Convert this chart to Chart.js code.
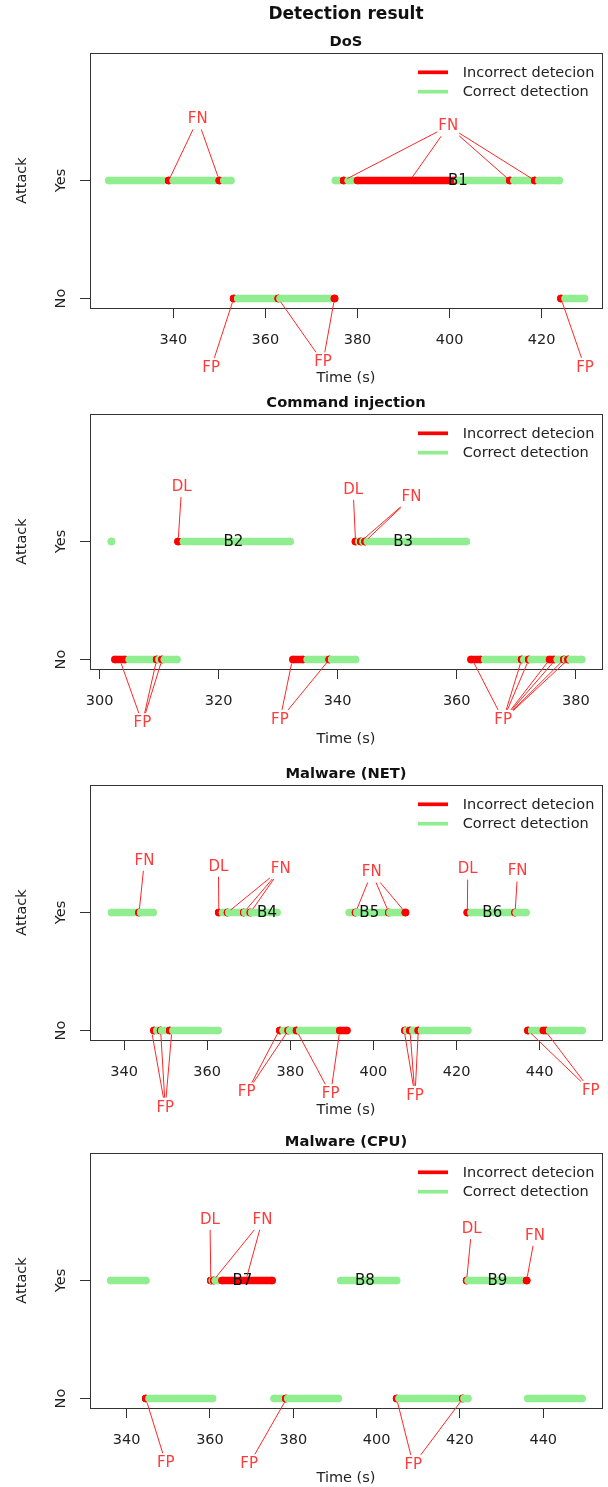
<!DOCTYPE html>
<html lang="en">
<head>
<meta charset="UTF-8">
<title>Detection result</title>
<script src="https://cdn.jsdelivr.net/npm/chart.js"></script>
<style>
  body { margin: 0; background: #fff; }
  #wrap { position: relative; width: 608px; height: 1487px; overflow: hidden; background: #fff; }
  #wrap canvas { position: absolute; left: 0; }
</style>
</head>
<body>
<div id="wrap">
  <canvas id="c0" width="608" height="400" style="top:0px"></canvas>
  <canvas id="c1" width="608" height="400" style="top:361px"></canvas>
  <canvas id="c2" width="608" height="400" style="top:732px"></canvas>
  <canvas id="c3" width="608" height="400" style="top:1100px"></canvas>
</div>
<script>
// runs: [start, end, 'C' correct / 'I' incorrect], drawn in time order
const mainTitle = 'Detection result';
const panelTitles = ['DoS', 'Command injection', 'Malware (NET)', 'Malware (CPU)'];
const yTickValues = [0, 1];
const yTickLabels = ['No', 'Yes'];
const legendLabels = ['Incorrect detecion', 'Correct detection'];
const legendColors = ['#ff0000', '#90ee90'];

// DoS
const dosRange = [321.9, 433.1];
const dosTicks = [340, 360, 380, 400, 420];
const dosYes = [[326, 338, 'C'], [339, 339, 'I'], [340, 349, 'C'], [350, 350, 'I'], [351, 352.5, 'C'],
  [375.2, 376, 'C'], [377, 377, 'I'], [378, 379, 'C'], [380, 401, 'I'], [401.8, 412.2, 'C'],
  [413.1, 413.1, 'I'], [414, 417.6, 'C'], [418.5, 418.5, 'I'], [419.4, 423.8, 'C']];
const dosNo = [[353.1, 353.1, 'I'], [354, 362.3, 'C'], [362.8, 362.8, 'I'], [363.2, 374.2, 'C'], [375, 375, 'I'],
  [424.2, 424.2, 'I'], [425.1, 429.3, 'C']];
const dosBlocks = [['B1', 401.8]];
const dosNotes = [
  ['FN', 345.3, 1.517, 1, [339, 350]],
  ['FN', 399.7, 1.46, 1, [377, 391.4, 413.1, 418.5]],
  ['FP', 348.2, -0.587, 0, [353.1]],
  ['FP', 372.5, -0.54, 0, [362.8, 375]],
  ['FP', 429.4, -0.587, 0, [424.2]]
];

// Command injection
const cmdRange = [298.4, 384.4];
const cmdTicks = [300, 320, 340, 360, 380];
const cmdYes = [[302, 302, 'C'], [313.2, 313.2, 'I'], [314.1, 332, 'C'],
  [343, 343, 'I'], [343.6, 343.6, 'C'], [343.9, 343.9, 'I'], [344.3, 344.3, 'C'], [344.6, 344.6, 'I'], [345, 361.6, 'C']];
const cmdNo = [[302.6, 304.3, 'I'], [305, 309.2, 'C'], [309.6, 309.6, 'I'], [310, 310.2, 'C'], [310.5, 310.5, 'I'], [310.9, 313, 'C'],
  [332.5, 334.2, 'I'], [334.9, 338.3, 'C'], [338.6, 338.6, 'I'], [339, 343, 'C'],
  [362.4, 364, 'I'], [364.7, 370.6, 'C'], [370.9, 370.9, 'I'], [371.3, 371.8, 'C'], [372.1, 372.1, 'I'], [372.5, 375.3, 'C'],
  [375.6, 376.4, 'I'], [376.9, 377.7, 'C'], [378, 378, 'I'], [378.3, 378.4, 'C'], [378.7, 378.7, 'I'], [379.1, 381, 'C']];
const cmdBlocks = [['B2', 322.5], ['B3', 351]];
const cmdNotes = [
  ['DL', 313.8, 1.461, 1, [313.2]],
  ['DL', 342.6, 1.438, 1, [343]],
  ['FN', 352.4, 1.373, 1, [343.9, 344.6]],
  ['FP', 307.2, -0.539, 0, [303.4, 309.6, 310.5]],
  ['FP', 330.3, -0.511, 0, [332.4, 338.6]],
  ['FP', 367.8, -0.511, 0, [362.6, 370.9, 372.1, 375.6, 376.6, 378, 378.7]]
];

// Malware (NET)
const netRange = [331.8, 455.0];
const netTicks = [340, 360, 380, 400, 420, 440];
const netYes = [[337, 343.2, 'C'], [343.6, 343.6, 'I'], [344, 347, 'C'],
  [362.8, 362.8, 'I'], [363.7, 364.6, 'C'], [364.9, 364.9, 'I'], [365.2, 368.5, 'C'], [368.8, 368.8, 'I'],
  [369.1, 370.1, 'C'], [370.4, 370.4, 'I'], [370.7, 376.8, 'C'],
  [394.2, 395.4, 'C'], [395.7, 395.7, 'I'], [396, 403.4, 'C'], [403.7, 403.7, 'I'], [404, 407, 'C'], [407.7, 407.7, 'I'],
  [422.6, 422.6, 'I'], [423.5, 433.8, 'C'], [434.1, 434.1, 'I'], [434.4, 436.7, 'C']];
const netNo = [[347.2, 347.2, 'I'], [347.9, 348.4, 'C'], [348.8, 348.8, 'I'], [349.1, 350.4, 'C'], [351, 351, 'I'], [351.8, 362.6, 'C'],
  [377.5, 377.5, 'I'], [378.3, 379.2, 'C'], [379.5, 379.5, 'I'], [379.9, 381, 'C'], [381.5, 381.5, 'I'], [382.3, 391.3, 'C'], [391.9, 393.6, 'I'],
  [407.6, 407.6, 'I'], [408, 408.3, 'C'], [408.8, 408.8, 'I'], [409.5, 410.2, 'C'], [410.8, 410.8, 'I'], [411.6, 422.7, 'C'],
  [437.2, 437.2, 'I'], [438.1, 440.4, 'C'], [440.9, 441.6, 'I'], [442.4, 450.2, 'C']];
const netBlocks = [['B4', 374.4], ['B5', 399], ['B6', 428.6]];
const netNotes = [
  ['FN', 344.9, 1.438, 1, [343.6]],
  ['DL', 362.7, 1.387, 1, [362.8]],
  ['FN', 377.7, 1.368, 1, [364.9, 368.8, 370.4]],
  ['FN', 399.6, 1.339, 1, [395.7, 403.7, 407.7]],
  ['DL', 422.7, 1.364, 1, [422.6]],
  ['FN', 434.7, 1.347, 1, [434.1]],
  ['FP', 349.9, -0.653, 0, [346.6, 348.8, 351.5]],
  ['FP', 369.5, -0.525, 0, [377.3, 379.5]],
  ['FP', 389.7, -0.539, 0, [381.5, 391.9]],
  ['FP', 410.0, -0.553, 0, [407.4, 408.8, 410.8]],
  ['FP', 452.3, -0.511, 0, [437.2, 441.3]]
];

// Malware (CPU)
const cpuRange = [331.2, 454.1];
const cpuTicks = [340, 360, 380, 400, 420, 440];
const cpuYes = [[336.2, 344.6, 'C'],
  [360.2, 360.2, 'I'], [360.6, 360.6, 'C'], [360.9, 360.9, 'I'], [361.3, 362, 'C'], [362.9, 374.9, 'I'],
  [391.4, 404.8, 'C'],
  [421.6, 421.6, 'I'], [422, 435.2, 'C'], [436, 436, 'I']];
const cpuNo = [[344.6, 344.6, 'I'], [345.4, 360.6, 'C'],
  [375.4, 377.6, 'C'], [378.2, 378.2, 'I'], [378.7, 390.8, 'C'],
  [404.8, 404.8, 'I'], [405.4, 420.4, 'C'], [420.7, 420.7, 'I'], [421, 421.9, 'C'],
  [436.3, 449.3, 'C']];
const cpuBlocks = [['B7', 367.8], ['B8', 397.2], ['B9', 429]];
const cpuNotes = [
  ['DL', 360.0, 1.514, 1, [360.2]],
  ['FN', 372.6, 1.514, 1, [360.8, 368.6]],
  ['DL', 422.8, 1.435, 1, [421.6]],
  ['FN', 438.0, 1.379, 1, [436]],
  ['FP', 349.4, -0.548, 0, [344.6]],
  ['FP', 369.4, -0.557, 0, [378.4]],
  ['FP', 408.8, -0.562, 0, [404.8, 420.7]]
];

const panels = [
  { range: dosRange, ticks: dosTicks, yes: dosYes, no: dosNo, blocks: dosBlocks, notes: dosNotes },
  { range: cmdRange, ticks: cmdTicks, yes: cmdYes, no: cmdNo, blocks: cmdBlocks, notes: cmdNotes },
  { range: netRange, ticks: netTicks, yes: netYes, no: netNo, blocks: netBlocks, notes: netNotes },
  { range: cpuRange, ticks: cpuTicks, yes: cpuYes, no: cpuNo, blocks: cpuBlocks, notes: cpuNotes }
];

const FONT = 'DejaVu Sans';
const statusColor = { C: '#90ee90', I: '#ff0000' };
Chart.defaults.font.family = FONT;

function buildDatasets(p) {
  const runs = [];
  p.yes.forEach(r => runs.push([r[0], r[1], r[2], 1]));
  p.no.forEach(r => runs.push([r[0], r[1], r[2], 0]));
  return runs.map((r, k) => ({
    data: [{ x: r[0], y: r[3] }, { x: r[1], y: r[3] }],
    showLine: true,
    borderColor: statusColor[r[2]],
    backgroundColor: statusColor[r[2]],
    borderWidth: 7.5,
    borderCapStyle: 'round',
    pointRadius: 3.75,
    pointBorderWidth: 0,
    order: -k
  }));
}

const overlay = {
  id: 'overlay',
  afterDatasetsDraw(chart, args, opts) {
    const ctx = chart.ctx, a = chart.chartArea;
    const xs = chart.scales.x, ys = chart.scales.y;
    const p = opts.panel;
    const cx = (a.left + a.right) / 2;
    ctx.save();

    // plot box
    ctx.strokeStyle = '#333';
    ctx.lineWidth = 1;
    ctx.strokeRect(Math.round(a.left) + 0.5, Math.round(a.top) + 0.5, Math.round(a.right - a.left), Math.round(a.bottom - a.top));

    // titles
    ctx.fillStyle = '#111';
    ctx.textAlign = 'center';
    ctx.textBaseline = 'middle';
    if (opts.index === 0) {
      ctx.font = 'bold 17px ' + FONT;
      ctx.fillText(mainTitle, cx, 15);
    }
    ctx.font = 'bold 14.7px ' + FONT;
    ctx.fillText(panelTitles[opts.index], cx, a.top - 11);

    // axis titles
    ctx.font = '14.5px ' + FONT;
    ctx.fillStyle = '#222';
    ctx.fillText('Time (s)', cx, a.bottom + 70);
    ctx.save();
    ctx.translate(22.7, (a.top + a.bottom) / 2);
    ctx.rotate(-Math.PI / 2);
    ctx.fillText('Attack', 0, 0);
    ctx.restore();
    yTickValues.forEach((v, i) => {
      ctx.save();
      ctx.translate(a.left - 28.3, ys.getPixelForValue(v));
      ctx.rotate(-Math.PI / 2);
      ctx.fillText(yTickLabels[i], 0, 0);
      ctx.restore();
    });

    // legend
    legendLabels.forEach((lab, i) => {
      const y = a.top + 19.3 + i * 19.4;
      ctx.strokeStyle = legendColors[i];
      ctx.lineWidth = 3.7;
      ctx.beginPath();
      ctx.moveTo(a.right - 184, y);
      ctx.lineTo(a.right - 154, y);
      ctx.stroke();
      ctx.fillStyle = '#222';
      ctx.textAlign = 'left';
      ctx.fillText(lab, a.right - 139.3, y + 1);
    });

    // block labels
    ctx.textAlign = 'center';
    ctx.font = '15px ' + FONT;
    ctx.fillStyle = '#111';
    p.blocks.forEach(b => ctx.fillText(b[0], xs.getPixelForValue(b[1]), ys.getPixelForValue(1) + 1));

    // callouts
    p.notes.forEach(n => {
      const lx = xs.getPixelForValue(n[1]), ly = ys.getPixelForValue(n[2]);
      const ty = ys.getPixelForValue(n[3]);
      const hw = ctx.measureText(n[0]).width / 2 + 1, hh = 10;
      ctx.strokeStyle = '#ff2626';
      ctx.lineWidth = 1;
      n[4].forEach(t => {
        const tx = xs.getPixelForValue(t);
        const dx = tx - lx, dy = ty - ly;
        const len = Math.hypot(dx, dy);
        const s = Math.min(Math.abs(dx) > 0.01 ? hw / Math.abs(dx) : 1e9, hh / Math.abs(dy));
        ctx.beginPath();
        ctx.moveTo(lx + dx * s, ly + dy * s);
        ctx.lineTo(tx - dx / len * 4, ty - dy / len * 4);
        ctx.stroke();
      });
      ctx.fillStyle = '#ff3c3c';
      ctx.fillText(n[0], lx, ly);
    });
    ctx.restore();
  }
};

panels.forEach((p, i) => {
  new Chart(document.getElementById('c' + i), {
    type: 'scatter',
    data: { datasets: buildDatasets(p) },
    options: {
      responsive: false,
      animation: false,
      devicePixelRatio: 1,
      events: [],
      layout: { padding: { top: 53, right: 6, bottom: 0, left: 0 } },
      plugins: {
        legend: { display: false },
        tooltip: { enabled: false },
        overlay: { panel: p, index: i }
      },
      scales: {
        x: {
          type: 'linear',
          min: p.range[0],
          max: p.range[1],
          afterBuildTicks: s => { s.ticks = p.ticks.map(v => ({ value: v })); },
          afterFit: s => { s.height = 92; },
          border: { display: false },
          grid: { drawOnChartArea: false, drawTicks: true, tickLength: 10, color: '#333', lineWidth: 1 },
          ticks: { color: '#222', font: { size: 14.5 }, padding: 14, maxRotation: 0, autoSkip: false }
        },
        y: {
          type: 'linear',
          min: -0.08,
          max: 2.08,
          afterBuildTicks: s => { s.ticks = yTickValues.map(v => ({ value: v })); },
          afterFit: s => { s.width = 90; },
          border: { display: false },
          grid: { drawOnChartArea: false, drawTicks: true, tickLength: 10, color: '#333', lineWidth: 1 },
          ticks: { display: false }
        }
      }
    },
    plugins: [overlay]
  });
});
</script>
</body>
</html>
